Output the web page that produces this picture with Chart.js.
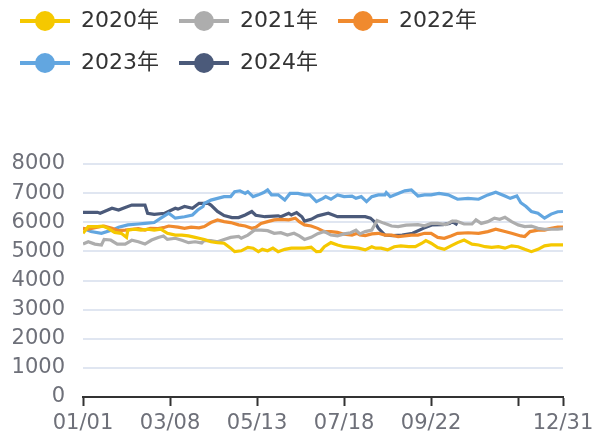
<!DOCTYPE html>
<html lang="zh">

<head>
	<meta charset="UTF-8">
	<title>2020-2024年 走势</title>
	<script src="https://cdn.jsdelivr.net/npm/chart.js"></script>
	<style>
		html, body { margin: 0; padding: 0; background: #fff; }
		#wrap { width: 593px; height: 439px; }
	</style>
</head>

<body>
	<div id="wrap"><canvas id="myChart"></canvas></div>

	<script>
		// x = day of year (0 = 01/01, 364 = 12/31), y = value
		const tickDays = [0, 66, 132, 198, 264, 330, 364];
		const tickLabels = ['01/01', '03/08', '05/13', '07/18', '09/22', '', '12/31'];
		const seriesNames = ['2020年', '2021年', '2022年', '2023年', '2024年'];
		const seriesColors = ['#f5c800', '#adadad', '#f08a2e', '#62a6e0', '#4b5a7a'];

		const s2020 = [[0, 5620], [4, 5850], [11, 5850], [15, 5870], [19, 5790], [24, 5650], [29, 5620], [33, 5480], [34, 5730], [39, 5760], [44, 5730], [49, 5760], [54, 5730], [59, 5760], [64, 5620], [70, 5560], [75, 5560], [80, 5530], [85, 5480], [88, 5450], [92, 5410], [97, 5330], [102, 5300], [107, 5280], [112, 5110], [115, 4990], [120, 5020], [125, 5140], [129, 5110], [133, 4990], [136, 5070], [140, 5020], [144, 5110], [148, 4990], [153, 5070], [158, 5110], [163, 5110], [168, 5110], [173, 5140], [177, 4990], [180, 5000], [183, 5160], [188, 5300], [193, 5220], [198, 5160], [204, 5140], [209, 5110], [214, 5050], [219, 5160], [222, 5110], [226, 5110], [231, 5050], [236, 5160], [241, 5190], [247, 5160], [252, 5160], [257, 5280], [260, 5370], [264, 5280], [269, 5130], [274, 5070], [279, 5190], [284, 5300], [289, 5390], [295, 5250], [300, 5220], [305, 5160], [310, 5140], [315, 5160], [320, 5110], [325, 5190], [330, 5160], [335, 5070], [340, 4990], [345, 5070], [350, 5190], [355, 5220], [360, 5220], [364, 5220]];
		const s2021 = [[0, 5250], [4, 5330], [9, 5250], [14, 5220], [16, 5410], [21, 5390], [26, 5250], [32, 5250], [37, 5380], [42, 5330], [47, 5250], [52, 5390], [57, 5480], [61, 5530], [64, 5410], [70, 5450], [75, 5380], [80, 5300], [85, 5330], [90, 5290], [92, 5380], [97, 5370], [102, 5330], [107, 5410], [112, 5480], [118, 5510], [120, 5450], [125, 5560], [130, 5730], [135, 5730], [140, 5710], [145, 5620], [150, 5640], [155, 5560], [160, 5620], [164, 5530], [168, 5410], [173, 5480], [178, 5610], [183, 5680], [188, 5560], [193, 5530], [198, 5600], [203, 5640], [207, 5730], [210, 5600], [214, 5680], [219, 5730], [223, 6060], [228, 5970], [234, 5870], [239, 5850], [245, 5900], [250, 5910], [254, 5920], [259, 5880], [264, 5960], [269, 5960], [275, 5920], [280, 6040], [283, 6040], [289, 5940], [295, 5940], [298, 6080], [302, 5960], [307, 6020], [312, 6140], [316, 6100], [320, 6170], [325, 6020], [330, 5910], [335, 5850], [340, 5870], [345, 5790], [350, 5760], [355, 5760], [360, 5760], [364, 5780]];
		const s2022 = [[0, 5790], [4, 5760], [11, 5830], [16, 5870], [22, 5790], [27, 5710], [32, 5730], [37, 5760], [42, 5780], [47, 5730], [51, 5790], [57, 5780], [62, 5830], [65, 5870], [72, 5830], [77, 5790], [82, 5830], [88, 5810], [92, 5850], [97, 5990], [102, 6080], [107, 6020], [112, 5990], [118, 5910], [123, 5870], [128, 5790], [131, 5830], [135, 5960], [140, 6020], [145, 6080], [150, 6100], [156, 6080], [161, 6140], [164, 6020], [168, 5910], [173, 5870], [178, 5790], [183, 5680], [188, 5680], [193, 5650], [198, 5590], [204, 5560], [208, 5620], [210, 5560], [214, 5540], [219, 5600], [224, 5620], [229, 5560], [234, 5560], [239, 5510], [244, 5530], [249, 5560], [254, 5560], [259, 5620], [264, 5620], [269, 5480], [274, 5450], [279, 5530], [284, 5620], [292, 5640], [300, 5620], [307, 5680], [313, 5760], [320, 5680], [325, 5620], [332, 5530], [335, 5510], [339, 5680], [345, 5730], [350, 5730], [355, 5790], [360, 5830], [364, 5830]];
		const s2023 = [[0, 5790], [6, 5680], [14, 5620], [22, 5730], [27, 5830], [34, 5910], [42, 5940], [47, 5960], [54, 5990], [59, 6140], [65, 6310], [70, 6140], [77, 6190], [83, 6250], [87, 6420], [91, 6540], [92, 6650], [97, 6760], [102, 6820], [107, 6880], [112, 6880], [115, 7050], [119, 7080], [123, 6990], [125, 7050], [129, 6880], [133, 6940], [137, 7020], [140, 7110], [143, 6940], [148, 6940], [153, 6760], [157, 6990], [163, 6990], [168, 6940], [172, 6940], [177, 6710], [182, 6820], [184, 6880], [188, 6790], [193, 6940], [198, 6880], [204, 6900], [207, 6820], [211, 6880], [215, 6710], [219, 6880], [224, 6940], [229, 6940], [230, 7020], [233, 6880], [239, 6990], [244, 7080], [249, 7110], [254, 6900], [259, 6940], [264, 6940], [270, 6990], [277, 6940], [284, 6790], [292, 6820], [300, 6790], [307, 6940], [313, 7030], [320, 6900], [324, 6820], [329, 6900], [332, 6670], [336, 6540], [340, 6370], [345, 6310], [350, 6140], [355, 6280], [360, 6360], [364, 6370]];
		const s2024 = [[0, 6340], [11, 6340], [13, 6310], [22, 6480], [27, 6420], [32, 6510], [37, 6590], [47, 6590], [49, 6310], [54, 6270], [62, 6310], [70, 6480], [72, 6450], [77, 6540], [83, 6480], [88, 6650], [95, 6650], [97, 6590], [102, 6370], [107, 6230], [113, 6160], [118, 6160], [123, 6250], [128, 6370], [131, 6240], [138, 6190], [148, 6220], [150, 6190], [156, 6310], [158, 6250], [162, 6330], [166, 6190], [168, 6040], [173, 6100], [178, 6220], [186, 6310], [193, 6190], [204, 6190], [214, 6190], [218, 6140], [221, 6020], [224, 5790], [229, 5560], [235, 5540], [242, 5560], [250, 5620], [258, 5790], [265, 5910], [273, 5920], [278, 5960], [280, 6020], [284, 5910]];

		const allSeries = [s2020, s2021, s2022, s2023, s2024];

		// legend marker: short line with a dot in the middle
		function legendIcon(color) {
			const c = document.createElement('canvas');
			c.width = 50;
			c.height = 22;
			const g = c.getContext('2d');
			g.strokeStyle = color;
			g.lineWidth = 4;
			g.beginPath();
			g.moveTo(0, 11);
			g.lineTo(50, 11);
			g.stroke();
			g.fillStyle = color;
			g.beginPath();
			g.arc(25, 11, 10, 0, Math.PI * 2);
			g.fill();
			return c;
		}

		const datasets = allSeries.map((s, i) => ({
			label: seriesNames[i],
			data: s.map(p => ({ x: p[0], y: p[1] })),
			borderColor: seriesColors[i],
			backgroundColor: seriesColors[i],
			borderWidth: 3.2,
			pointRadius: 0,
			pointHoverRadius: 0,
			pointStyle: legendIcon(seriesColors[i]),
			tension: 0,
			fill: false,
		}));

		const fontFamily = "'DejaVu Sans', 'Noto Sans CJK SC', sans-serif";

		// push the plot area down below the legend
		const legendSpacer = {
			id: 'legendSpacer',
			beforeInit(chart) {
				const fit = chart.legend.fit;
				chart.legend.fit = function () {
					fit.bind(chart.legend)();
					this.height += 80;
				};
			}
		};

		const ctx = document.getElementById('myChart').getContext('2d');
		new Chart(ctx, {
			type: 'line',
			data: { datasets: datasets },
			options: {
				responsive: true,
				maintainAspectRatio: false,
				animation: false,
				layout: { padding: { top: -10, right: 30, bottom: 0, left: 0 } },
				plugins: {
					legend: {
						position: 'top',
						align: 'start',
						labels: {
							usePointStyle: true,
							pointStyleWidth: 50,
							padding: 20,
							color: '#333',
							font: { size: 22, family: fontFamily },
						}
					},
					tooltip: { enabled: false },
				},
				scales: {
					x: {
						type: 'linear',
						min: 0,
						max: 364,
						afterBuildTicks: scale => {
							scale.ticks = tickDays.map(v => ({ value: v }));
						},
						afterFit: scale => {
							scale.height = 42;
							scale.paddingLeft = 0;
							scale.paddingRight = 0;
						},
						ticks: {
							autoSkip: false,
							maxRotation: 0,
							padding: 5,
							color: '#6e7079',
							font: { size: 21, family: fontFamily },
							callback: value => tickLabels[tickDays.indexOf(value)],
						},
						grid: {
							drawOnChartArea: false,
							drawTicks: true,
							tickLength: 9,
							tickWidth: 2,
							tickColor: '#333',
						},
						border: { display: true, color: '#333', width: 2 },
					},
					y: {
						min: 0,
						max: 8000,
						afterFit: scale => { scale.width = 83; },
						ticks: {
							stepSize: 1000,
							padding: 18,
							color: '#6e7079',
							font: { size: 21, family: fontFamily },
							callback: value => String(value),
						},
						grid: { color: '#e0e6f1', lineWidth: 2, drawTicks: false },
						border: { display: false },
					}
				}
			},
			plugins: [legendSpacer]
		});
	</script>
</body>

</html>
